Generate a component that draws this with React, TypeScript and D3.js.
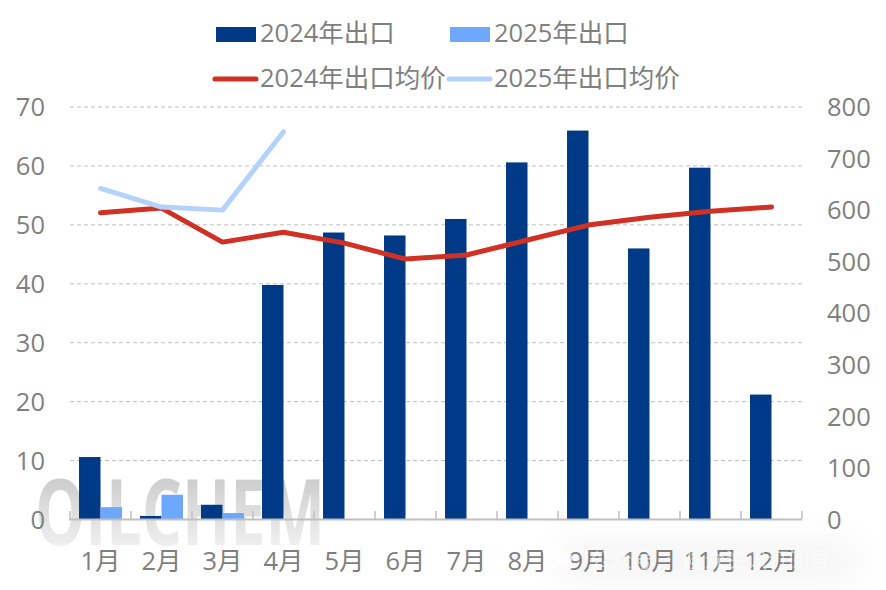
import * as d3 from "d3";

const MONTHS = ["1月", "2月", "3月", "4月", "5月", "6月", "7月", "8月", "9月", "10月", "11月", "12月"];
const EXPORT_2024 = [10.6, 0.6, 2.5, 39.8, 48.7, 48.2, 51, 60.6, 66, 46, 59.7, 21.2];
const EXPORT_2025 = [2.1, 4.2, 1.1];
const PRICE_2024 = [595, 604, 538, 557, 536, 505, 513, 542, 571, 586, 598, 606];
const PRICE_2025 = [642, 606, 600, 752];
const LEFT_TICKS = [0, 10, 20, 30, 40, 50, 60, 70];
const RIGHT_TICKS = [0, 100, 200, 300, 400, 500, 600, 700, 800];

const WIDTH = 886;
const HEIGHT = 590;
const FONT = "'Open Sans', 'Noto Sans CJK SC', sans-serif";
const GREY = "#7f7f7f";
const DARK = "#003a86";
const LIGHT = "#6ea8fe";
const RED = "#d13025";
const PALE = "#b5d2fd";

const x = d3.scaleBand().domain(MONTHS).range([70, 802]);
const inner = d3.scaleBand().domain(["a", "b"]).range([0, x.bandwidth()]).paddingOuter(0.42).paddingInner(0);
const yLeft = d3.scaleLinear().domain([0, 70]).range([519.5, 107]);
const yRight = d3.scaleLinear().domain([0, 800]).range([519.5, 107]);

const priceLine = d3
  .line<number>()
  .x((_, i) => (x(MONTHS[i]) as number) + x.bandwidth() / 2)
  .y((d) => yRight(d));

export default function App() {
  return (
    <svg
      width={WIDTH}
      height={HEIGHT}
      style={{ position: "absolute", left: 0, top: 0, fontFamily: FONT }}
    >
      <defs>
        <linearGradient id="wm" x1="0" y1="0.2" x2="0" y2="0.95">
          <stop offset="0" stopColor="#cacaca" />
          <stop offset="1" stopColor="#f9f9f9" />
        </linearGradient>
        <filter id="blur" x="-30%" y="-150%" width="160%" height="400%">
          <feGaussianBlur stdDeviation="20" />
        </filter>
      </defs>
      <rect width={WIDTH} height={HEIGHT} fill="#fff" />

      {/* logo watermark */}
      <text
        x={35}
        y={545}
        fontSize={91}
        fontWeight={700}
        fill="url(#wm)"
        textLength={290}
        lengthAdjust="spacingAndGlyphs"
      >
        OILCHEM
      </text>

      <rect x={555} y={548} width={305} height={26} rx={13} fill="#000" opacity={0.07} filter="url(#blur)" />

      {LEFT_TICKS.slice(1).map((t) => (
        <line key={t} x1={70} x2={802} y1={yLeft(t)} y2={yLeft(t)} stroke="#bfbfbf" strokeWidth={1} strokeDasharray="4 3" />
      ))}

      {MONTHS.map((m, i) => (
        <rect
          key={m}
          x={(x(m) as number) + (inner("a") as number)}
          y={yLeft(EXPORT_2024[i])}
          width={inner.bandwidth()}
          height={yLeft(0) - yLeft(EXPORT_2024[i])}
          fill={DARK}
        />
      ))}
      {EXPORT_2025.map((v, i) => (
        <rect
          key={i}
          x={(x(MONTHS[i]) as number) + (inner("b") as number)}
          y={yLeft(v)}
          width={inner.bandwidth()}
          height={yLeft(0) - yLeft(v)}
          fill={LIGHT}
        />
      ))}

      {/* x axis */}
      <g stroke="#bfbfbf" strokeWidth={1.5} fill="none">
        <line x1={69} x2={802} y1={519.5} y2={519.5} strokeWidth={2} />
        {[...MONTHS.map((m) => x(m) as number), 802].map((p, i) => (
          <line key={i} x1={p} x2={p} y1={511} y2={519} />
        ))}
      </g>

      <path d={priceLine(PRICE_2024) ?? ""} fill="none" stroke={RED} strokeWidth={5} strokeLinecap="round" strokeLinejoin="round" />
      <path d={priceLine(PRICE_2025) ?? ""} fill="none" stroke={PALE} strokeWidth={5} strokeLinecap="round" strokeLinejoin="round" />

      <g fontSize={25.5} fill={GREY}>
        {LEFT_TICKS.map((t) => (
          <text key={t} x={45} y={yLeft(t)} dy="0.36em" textAnchor="end">
            {t}
          </text>
        ))}
        {RIGHT_TICKS.map((t) => (
          <text key={t} x={827} y={yRight(t)} dy="0.36em">
            {t}
          </text>
        ))}
        {MONTHS.map((m) => (
          <text key={m} x={(x(m) as number) + x.bandwidth() / 2} y={570} textAnchor="middle">
            {m}
          </text>
        ))}

        {/* legend */}
        <rect x={216} y={27} width={40} height={15} fill={DARK} />
        <text x={260} y={42}>2024年出口</text>
        <rect x={450} y={27} width={40} height={15} fill={LIGHT} />
        <text x={494} y={42}>2025年出口</text>
        <line x1={215} x2={256} y1={79} y2={79} stroke={RED} strokeWidth={5} strokeLinecap="round" />
        <text x={260} y={87}>2024年出口均价</text>
        <line x1={449} x2={490} y1={79} y2={79} stroke={PALE} strokeWidth={5} strokeLinecap="round" />
        <text x={494} y={87}>2025年出口均价</text>
      </g>

      {/* wechat watermark, sits over the month labels */}
      <g fill="#fff" opacity={0.75}>
        <ellipse cx={552} cy={549} rx={10} ry={8.5} />
        <ellipse cx={564} cy={558} rx={8.5} ry={7} />
      </g>
      <text x={590} y={567} fontSize={21} fill="#fff" opacity={0.55} fontFamily="'Noto Sans CJK SC', sans-serif">
        公众号 · 隆众资讯订阅号
      </text>
    </svg>
  );
}
